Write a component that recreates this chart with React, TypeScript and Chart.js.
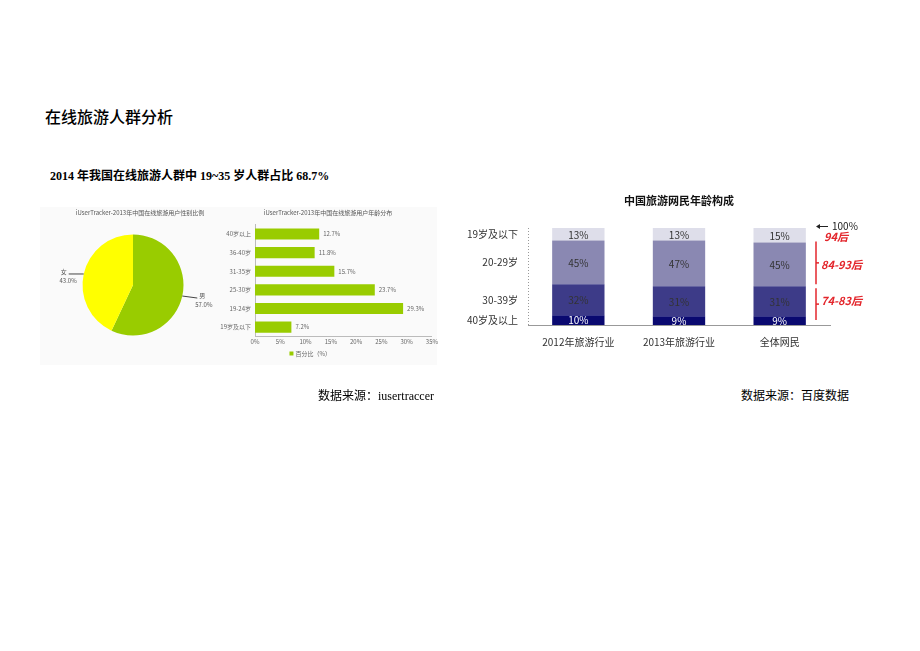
import React, { useEffect, useRef } from "react";
import { Chart, registerables } from "chart.js";

Chart.register(...registerables);

// ---------- data ----------
const pageTitle = "在线旅游人群分析";
const subTitle = "2014 年我国在线旅游人群中 19~35 岁人群占比 68.7%";
const sourceLeft = "数据来源：iusertraccer";
const sourceRight = "数据来源：百度数据";

const pieTitle = "iUserTracker-2013年中国在线旅游用户性别比例";
const genderLabels = ["男", "女"];
const genderValues = [57.0, 43.0];
const genderColors = ["#99cc00", "#ffff00"];

const barTitle = "iUserTracker-2013年中国在线旅游用户年龄分布";
const barLegend = "百分比（%）";
const ageLabels = ["40岁以上", "36-40岁", "31-35岁", "25-30岁", "19-24岁", "19岁及以下"];
const ageValues = [12.7, 11.8, 15.7, 23.7, 29.3, 7.2];

const stackTitle = "中国旅游网民年龄构成";
const groupCategories = ["2012年旅游行业", "2013年旅游行业", "全体网民"];
const seriesNames = ["40岁及以上", "30-39岁", "20-29岁", "19岁及以下"];
const s40plus = [10, 9, 9];
const s30to39 = [32, 31, 31];
const s20to29 = [45, 47, 45];
const s19below = [13, 13, 15];
const seriesColors = ["#0a0970", "#3d3b88", "#8a88b2", "#dedeea"];
const generationLabels = ["94后", "84-93后", "74-83后"];

const CJK = '"Noto Sans CJK SC", "Noto Sans", sans-serif';

// ---------- pie ----------
const pieLabelsPlugin = {
  id: "pieLabels",
  afterDraw(chart: any) {
    const ctx = chart.ctx;
    ctx.save();
    ctx.font = `6px ${CJK}`;
    ctx.fillStyle = "#555";
    ctx.textAlign = "center";
    ctx.textBaseline = "middle";
    ctx.fillText(pieTitle, 100, 8);
    const meta = chart.getDatasetMeta(0);
    meta.data.forEach((arc: any, i: number) => {
      const p = arc.getProps(["x", "y", "startAngle", "endAngle", "outerRadius"], true);
      const mid = (p.startAngle + p.endAngle) / 2;
      const px = p.x + Math.cos(mid) * p.outerRadius;
      const py = p.y + Math.sin(mid) * p.outerRadius;
      const dir = Math.cos(mid) >= 0 ? 1 : -1;
      const ex = px + dir * 15;
      const ey = py + (dir > 0 ? 2 : 0);
      ctx.strokeStyle = "#444";
      ctx.lineWidth = 1;
      ctx.beginPath();
      ctx.moveTo(px, py);
      ctx.lineTo(ex, ey);
      ctx.stroke();
      ctx.fillStyle = "#555";
      ctx.textAlign = dir > 0 ? "left" : "right";
      ctx.fillText(genderLabels[i], ex + dir * 2, ey - 2);
      ctx.fillText(genderValues[i].toFixed(1) + "%", ex - dir * 2 + (dir < 0 ? 6 : 0), ey + 7);
    });
    ctx.restore();
  },
};

function PieChart() {
  const ref = useRef<HTMLCanvasElement>(null);
  useEffect(() => {
    const chart = new Chart(ref.current as HTMLCanvasElement, {
      type: "pie",
      data: {
        labels: genderLabels,
        datasets: [{ data: genderValues, backgroundColor: genderColors, borderWidth: 0 }],
      },
      options: {
        animation: false,
        responsive: false,
        layout: { padding: { left: 42.5, right: 56.5, top: 29.5, bottom: 29.5 } },
        plugins: { legend: { display: false }, tooltip: { enabled: false } },
      },
      plugins: [pieLabelsPlugin],
    } as any);
    return () => chart.destroy();
  }, []);
  return <canvas ref={ref} width={200} height={160} style={{ width: 200, height: 160 }} />;
}

// ---------- horizontal bar ----------
const barLabelsPlugin = {
  id: "barLabels",
  afterDraw(chart: any) {
    const ctx = chart.ctx;
    ctx.save();
    ctx.font = `6px ${CJK}`;
    ctx.fillStyle = "#555";
    ctx.textAlign = "center";
    ctx.textBaseline = "middle";
    ctx.fillText(barTitle, 113, 8);
    const meta = chart.getDatasetMeta(0);
    ctx.fillStyle = "#666";
    ctx.textAlign = "left";
    meta.data.forEach((bar: any, i: number) => {
      ctx.fillText(ageValues[i].toFixed(1) + "%", bar.x + 4, bar.y);
    });
    // legend
    const area = chart.chartArea;
    const cx = (area.left + area.right) / 2;
    ctx.fillStyle = "#99cc00";
    ctx.fillRect(cx - 54 + 0, 146.5, 4, 4);
    ctx.fillStyle = "#666";
    ctx.fillText(barLegend, cx - 48, 148.5);
    ctx.restore();
  },
};

function BarChart() {
  const ref = useRef<HTMLCanvasElement>(null);
  useEffect(() => {
    const chart = new Chart(ref.current as HTMLCanvasElement, {
      type: "bar",
      data: {
        labels: ageLabels,
        datasets: [
          {
            label: barLegend,
            data: ageValues,
            backgroundColor: "#99cc00",
            barPercentage: 0.6,
            categoryPercentage: 1,
          },
        ],
      },
      options: {
        indexAxis: "y",
        animation: false,
        responsive: false,
        layout: { padding: { top: 19.7, right: 8, bottom: 14.6, left: 0 } },
        scales: {
          x: {
            min: 0,
            max: 35,
            ticks: {
              stepSize: 5,
              callback: (v: any) => v + "%",
              font: { size: 6, family: CJK },
              color: "#666",
              padding: 2,
            },
            grid: { display: false, drawTicks: false },
            border: { display: true, color: "#bbb" },
            afterFit: (s: any) => {
              s.height = 14;
            },
          },
          y: {
            ticks: { font: { size: 6, family: CJK }, color: "#666", padding: 4 },
            grid: { display: false, drawTicks: false },
            border: { display: true, color: "#bbb" },
            afterFit: (s: any) => {
              s.width = 40;
            },
          },
        },
        plugins: { legend: { display: false }, tooltip: { enabled: false } },
      },
      plugins: [barLabelsPlugin],
    } as any);
    return () => chart.destroy();
  }, []);
  return <canvas ref={ref} width={225} height={160} style={{ width: 225, height: 160 }} />;
}

// ---------- stacked bar ----------
const stackPlugin = {
  id: "stackDecor",
  afterDatasetsDraw(chart: any) {
    const ctx = chart.ctx;
    const area = chart.chartArea;
    ctx.save();
    // title
    ctx.font = `bold 11px ${CJK}`;
    ctx.fillStyle = "#111";
    ctx.textAlign = "center";
    ctx.textBaseline = "middle";
    ctx.fillText(stackTitle, (area.left + area.right) / 2, 13);
    // dotted y axis
    ctx.strokeStyle = "#999";
    ctx.lineWidth = 1;
    ctx.setLineDash([1, 2]);
    ctx.beginPath();
    ctx.moveTo(area.left + 0.5, area.top);
    ctx.lineTo(area.left + 0.5, area.bottom);
    ctx.stroke();
    ctx.setLineDash([]);
    // segment values and series labels
    ctx.font = `10px ${CJK}`;
    chart.data.datasets.forEach((ds: any, di: number) => {
      const meta = chart.getDatasetMeta(di);
      meta.data.forEach((el: any, i: number) => {
        const cy = (el.y + el.base) / 2;
        ctx.fillStyle = di === 0 ? "#fff" : "#333";
        ctx.textAlign = "center";
        ctx.fillText(ds.data[i] + "%", el.x, cy + 0.5);
        if (i === 0) {
          ctx.fillStyle = "#333";
          ctx.textAlign = "right";
          ctx.fillText(seriesNames[di], area.left - 10, cy);
        }
      });
    });
    // right annotations
    const last = groupCategories.length - 1;
    const seg = (di: number) => chart.getDatasetMeta(di).data[last];
    const lx = area.right - 14;
    // arrow 100%
    const ay = area.top - 1.5;
    ctx.strokeStyle = "#222";
    ctx.fillStyle = "#222";
    ctx.lineWidth = 1;
    ctx.beginPath();
    ctx.moveTo(lx + 12, ay);
    ctx.lineTo(lx + 2, ay);
    ctx.stroke();
    ctx.beginPath();
    ctx.moveTo(lx, ay);
    ctx.lineTo(lx + 4, ay - 2.5);
    ctx.lineTo(lx + 4, ay + 2.5);
    ctx.closePath();
    ctx.fill();
    ctx.textAlign = "left";
    ctx.font = `10px ${CJK}`;
    ctx.fillText("100%", lx + 16, ay);
    // red brackets
    const red = "#e3262c";
    ctx.strokeStyle = red;
    ctx.lineWidth = 1.5;
    const s20 = seg(2);
    const s30 = seg(1);
    const s40 = seg(0);
    const lines = [
      [s20.y - 1, s20.base - 2],
      [s30.y + 2, s40.base - 5],
    ];
    lines.forEach(([a, b]) => {
      ctx.beginPath();
      ctx.moveTo(lx, a);
      ctx.lineTo(lx, b);
      ctx.stroke();
      const m = (a + b) / 2;
      ctx.beginPath();
      ctx.moveTo(lx, m);
      ctx.lineTo(lx + 3, m);
      ctx.stroke();
    });
    ctx.fillStyle = red;
    ctx.font = `italic bold 11px ${CJK}`;
    const s19 = seg(3);
    ctx.fillText(generationLabels[0], lx + 8, (s19.y + s19.base) / 2 + 2);
    ctx.fillText(generationLabels[1], lx + 5, (s20.y + s20.base) / 2);
    ctx.fillText(generationLabels[2], lx + 5, (s30.y + s30.base) / 2);
    ctx.restore();
  },
};

function StackChart() {
  const ref = useRef<HTMLCanvasElement>(null);
  useEffect(() => {
    const values = [s40plus, s30to39, s20to29, s19below];
    const chart = new Chart(ref.current as HTMLCanvasElement, {
      type: "bar",
      data: {
        labels: groupCategories,
        datasets: values.map((d, i) => ({
          label: seriesNames[i],
          data: d,
          backgroundColor: seriesColors[i],
          barPercentage: 0.52,
          categoryPercentage: 1,
          stack: "s",
        })),
      },
      options: {
        animation: false,
        responsive: false,
        layout: { padding: { left: 68, right: 40, top: 40, bottom: 6 } },
        scales: {
          x: {
            stacked: true,
            grid: { display: false, drawTicks: false },
            border: { display: true, color: "#999" },
            ticks: { font: { size: 10, family: CJK }, color: "#333", padding: 11 },
            afterFit: (s: any) => {
              s.height = 22;
            },
          },
          y: { stacked: true, min: 0, max: 100, display: false },
        },
        plugins: { legend: { display: false }, tooltip: { enabled: false } },
      },
      plugins: [stackPlugin],
    } as any);
    return () => chart.destroy();
  }, []);
  return <canvas ref={ref} width={410} height={165} style={{ width: 410, height: 165 }} />;
}

export default function App() {
  const abs = (left: number, top: number): React.CSSProperties => ({ position: "absolute", left, top });
  return (
    <div style={{ position: "absolute", left: 0, top: 0, width: 920, height: 651, background: "#fff", overflow: "hidden" }}>
      <div
        style={{
          ...abs(45, 107),
          fontFamily: CJK,
          fontSize: 16,
          lineHeight: "18px",
          fontWeight: 500,
          color: "#000",
          whiteSpace: "nowrap",
        }}
      >
        {pageTitle}
      </div>
      <div
        style={{
          ...abs(50, 168),
          fontFamily: '"Liberation Serif", "Noto Sans CJK SC", serif',
          fontSize: 12,
          lineHeight: "16px",
          fontWeight: "bold",
          color: "#000",
          whiteSpace: "nowrap",
        }}
      >
        {subTitle}
      </div>
      <div style={{ ...abs(40, 207), width: 397, height: 158, background: "#fafafa" }} />
      <div style={abs(40, 205)}>
        <PieChart />
      </div>
      <div style={abs(215, 205)}>
        <BarChart />
      </div>
      <div style={abs(460, 188)}>
        <StackChart />
      </div>
      <div
        style={{
          ...abs(318, 388),
          fontFamily: '"Liberation Serif", "Noto Sans CJK SC", serif',
          fontSize: 12,
          lineHeight: "16px",
          color: "#000",
          whiteSpace: "nowrap",
        }}
      >
        {sourceLeft}
      </div>
      <div
        style={{
          ...abs(741, 388),
          fontFamily: '"Liberation Serif", "Noto Sans CJK SC", serif',
          fontSize: 12,
          lineHeight: "16px",
          color: "#000",
          whiteSpace: "nowrap",
        }}
      >
        {sourceRight}
      </div>
    </div>
  );
}
